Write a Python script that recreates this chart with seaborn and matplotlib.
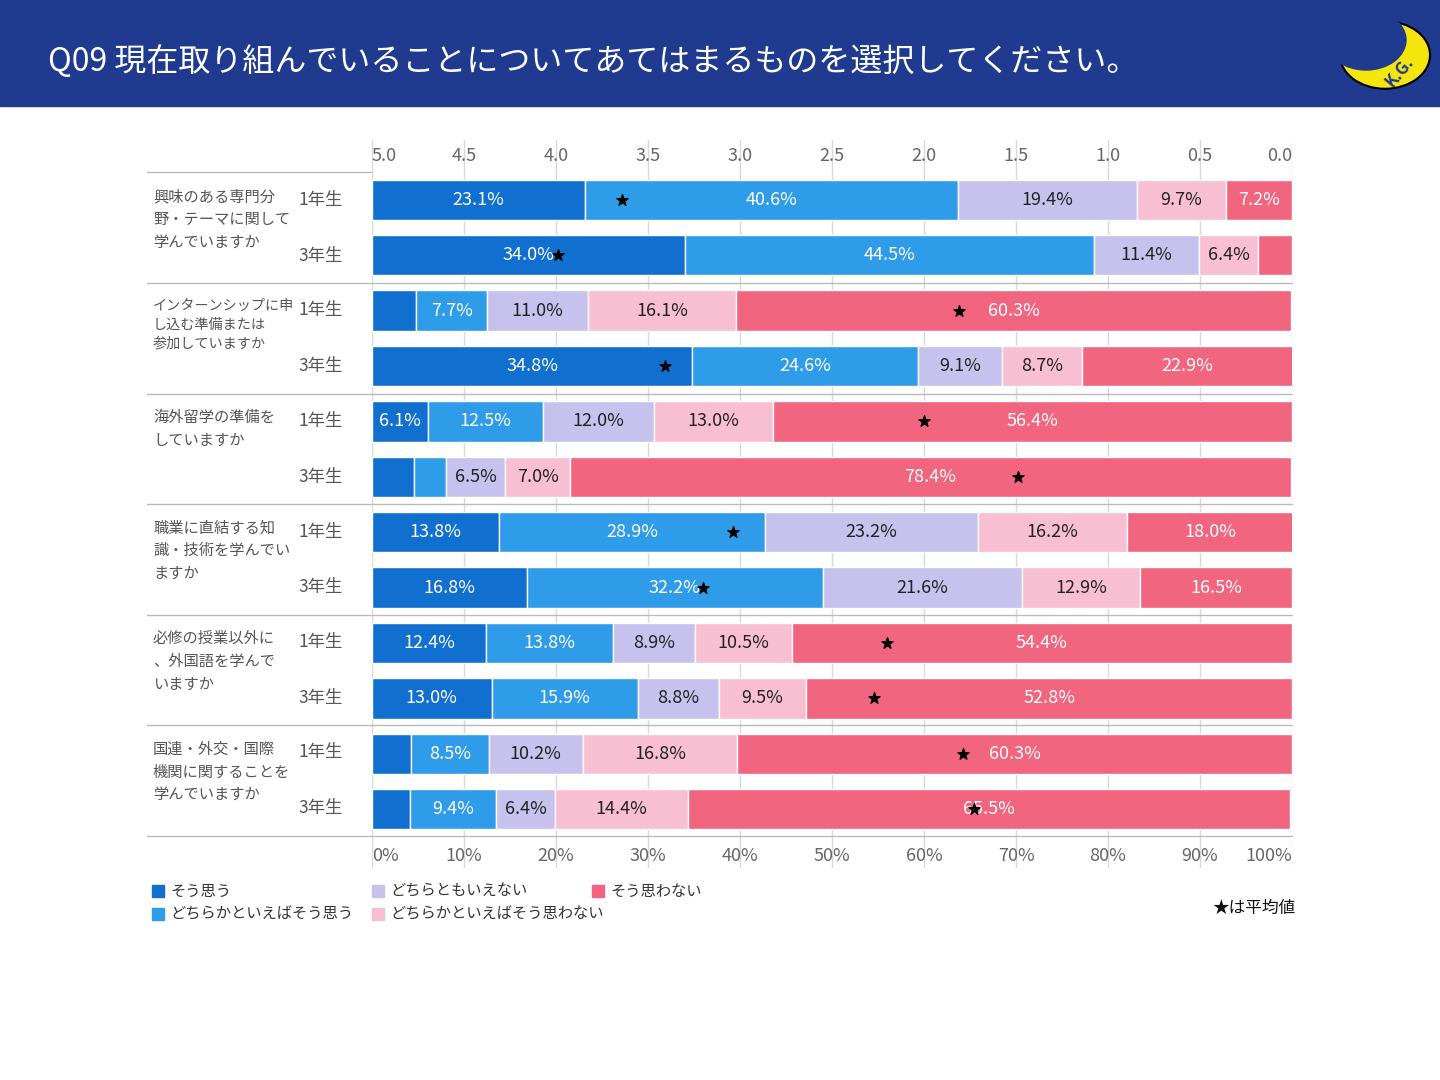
import matplotlib
matplotlib.use("Agg")
import matplotlib.pyplot as plt
import seaborn as sns
import numpy as np
from matplotlib.patches import Rectangle, Circle

sns.set_theme(style="white")
plt.rcParams['font.family'] = ['Noto Sans CJK JP', 'DejaVu Sans']

questions = ["興味のある専門分\n野・テーマに関して\n学んでいますか",
             "インターンシップに申\nし込む準備または\n参加していますか",
             "海外留学の準備を\nしていますか",
             "職業に直結する知\n識・技術を学んでい\nますか",
             "必修の授業以外に\n、外国語を学んで\nいますか",
             "国連・外交・国際\n機関に関することを\n学んでいますか"]
grades = ["1年生", "3年生"]
categories = ["そう思う", "どちらかといえばそう思う", "どちらともいえない",
              "どちらかといえばそう思わない", "そう思わない"]
s1 = [23.1, 34.0, 4.8, 34.8, 6.1, 4.6, 13.8, 16.8, 12.4, 13.0, 4.2, 4.1]
s2 = [40.6, 44.5, 7.7, 24.6, 12.5, 3.4, 28.9, 32.2, 13.8, 15.9, 8.5, 9.4]
s3 = [19.4, 11.4, 11.0, 9.1, 12.0, 6.5, 23.2, 21.6, 8.9, 8.8, 10.2, 6.4]
s4 = [9.7, 6.4, 16.1, 8.7, 13.0, 7.0, 16.2, 12.9, 10.5, 9.5, 16.8, 14.4]
s5 = [7.2, 3.7, 60.3, 22.9, 56.4, 78.4, 18.0, 16.5, 54.4, 52.8, 60.3, 65.5]
labels_shown = [[True]*5, [True]*4+[False],
                [False]+[True]*4, [True]*5,
                [True]*5, [False, False, True, True, True],
                [True]*5, [True]*5, [True]*5, [True]*5,
                [False]+[True]*4, [False]+[True]*4]
means = [3.64, 3.99, 1.81, 3.41, 2.00, 1.49, 3.04, 3.20, 2.20, 2.27, 1.79, 1.73]
colors = ["#1170cf", "#2f9ce9", "#c7c1ee", "#f8bfd2", "#f1657f"]

fig = plt.figure(figsize=(14.4, 10.8), dpi=100)
fig.patches.append(Rectangle((0, 1-106/1080), 1, 106/1080, transform=fig.transFigure,
                             color="#1f3a8e", zorder=0))
fig.text(48/1440, 1-62/1080, "Q09 現在取り組んでいることについてあてはまるものを選択してください。",
         color="white", fontsize=23, va="center")
fig.patches.append(Circle((1385/1440, 1-55/1080), 45/1440, transform=fig.transFigure,
                          color="#f4e60d", ec="black", lw=1.5, zorder=1))
fig.patches.append(Circle((1366/1440, 1-40/1080), 40/1440, transform=fig.transFigure,
                          color="#1f3a8e", zorder=2))
fig.text(1400/1440, 1-72/1080, "K.G.", fontsize=12, rotation=50, color="#1f3a8e",
         fontweight="bold", ha="center", va="center", zorder=3)

top, bot = 140, 868
ax = fig.add_axes([372/1440, 1-bot/1080, 920/1440, (bot-top)/1080])
ypos = np.arange(12)
ax.set_ylim(11 + 1.06, -1.08)
ax.set_xlim(0, 100)
series = [s1, s2, s3, s4, s5]
left = np.zeros(12)
for k, (vals, c) in enumerate(zip(series, colors)):
    vals = np.array(vals)
    ax.barh(ypos, vals, left=left, height=0.73, color=c, zorder=2, label=categories[k])
    for i in range(12):
        if labels_shown[i][k]:
            ax.text(left[i] + vals[i]/2, ypos[i], f"{vals[i]:.1f}%", ha="center", va="center",
                    fontsize=13, color="white" if k in (0, 1, 4) else "#222222", zorder=4)
    left += vals
ax.scatter([(5-m)/5*100 for m in means], ypos, marker="*", s=70, color="black", zorder=5)
for x in np.arange(0, 101, 10):
    ax.axvline(x, color="#d9d9d9", lw=1, zorder=0)
ax.axis("off")

for x in np.arange(0, 101, 10):
    px = 372 + x*9.2
    ha = "center" if 0 < x < 100 else ("left" if x == 0 else "right")
    fig.text(px/1440, 1-856/1080, f"{x}%", ha=ha, va="center", fontsize=13, color="#666666")
    fig.text(px/1440, 1-156/1080, f"{5-x/20:.1f}", ha=ha, va="center", fontsize=13, color="#666666")

def yfig(p): return 1 - p/1080
fig.lines.append(plt.Line2D([147/1440, 372/1440], [yfig(172)]*2, color="#bbbbbb", lw=1, transform=fig.transFigure))
for g in range(6):
    yc1 = 200 + g*110.5
    fig.text(153/1440, yfig(yc1 - 12), questions[g], fontsize=10.2 if g == 1 else 11,
             color="#555555", va="top", linespacing=1.45)
    for j in range(2):
        fig.text(298/1440, yfig(yc1 + j*55.5), grades[j], fontsize=12.5, color="#555555", va="center")
    ys = 283 + g*110.5
    fig.lines.append(plt.Line2D([147/1440, 1292/1440], [yfig(ys)]*2, color="#bbbbbb", lw=1,
                                transform=fig.transFigure))

leg_pos = [(152, 891), (152, 914), (372, 891), (372, 914), (592, 891)]
for (px, py), c, t in zip(leg_pos, colors, categories):
    fig.patches.append(Rectangle((px/1440, yfig(py+6)), 12/1440, 12/1080, transform=fig.transFigure, color=c))
    fig.text((px+18)/1440, yfig(py), t, fontsize=11, va="center", color="#333333")
fig.text(1295/1440, yfig(908), "★は平均値", fontsize=12, ha="right", va="center", color="#111111")

fig.savefig("out.png", dpi=100, facecolor="white")
